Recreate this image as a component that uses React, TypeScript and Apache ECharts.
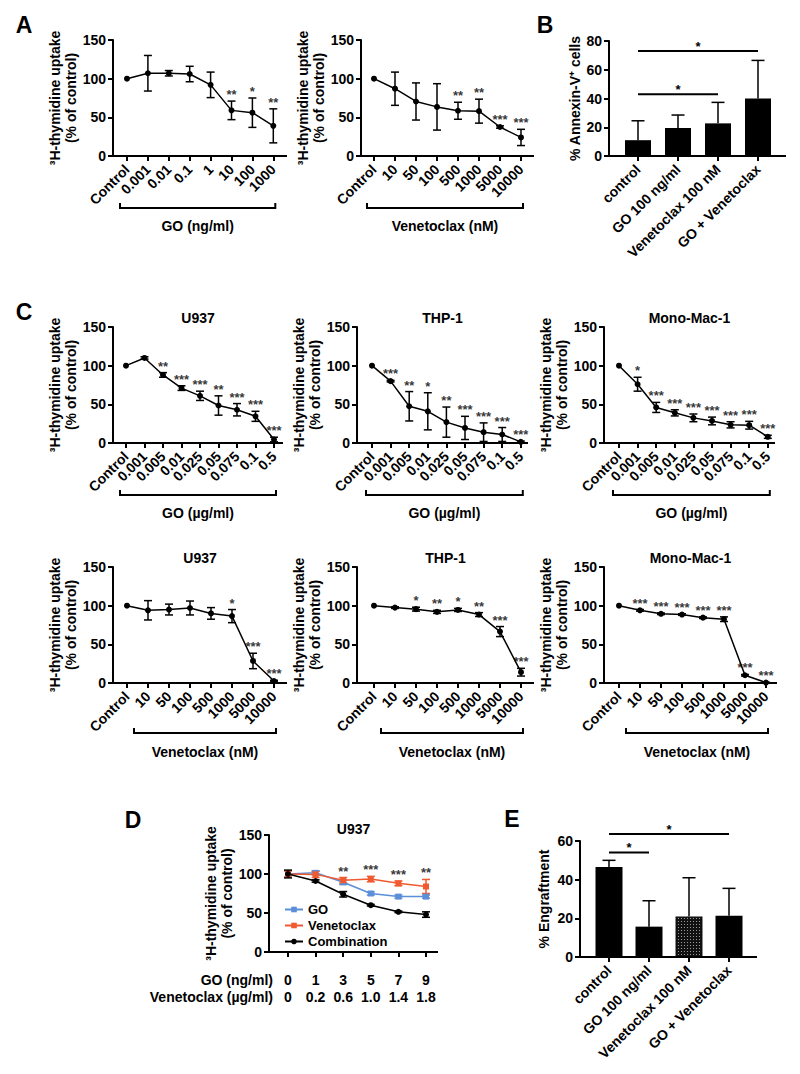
import React, { useEffect, useRef } from "react";
import * as echarts from "echarts";

const FONT = "'Liberation Sans', Arial, Helvetica, sans-serif";

// ---------------- data ----------------
const goNgDoses = ["Control", "0.001", "0.01", "0.1", "1", "10", "100", "1000"];
const venNmDoses = ["Control", "10", "50", "100", "500", "1000", "5000", "10000"];
const goUgDoses = ["Control", "0.001", "0.005", "0.01", "0.025", "0.05", "0.075", "0.1", "0.5"];

// A
const aGoMean = [100, 107, 107, 106, 92, 59, 56, 39];
const aGoSd = [0, 23, 3.5, 10, 16.5, 12, 19, 22];
const aGoSig = ["", "", "", "", "", "**", "*", "**"];
const aVenMean = [100, 87, 70.5, 63.5, 58.5, 58, 37.5, 24];
const aVenSd = [0, 21.5, 24, 30, 11, 15.5, 1.5, 10.5];
const aVenSig = ["", "", "", "", "**", "**", "***", "***"];

// B
const bGroups = ["control", "GO 100 ng/ml", "Venetoclax 100 nM", "GO + Venetoclax"];
const bMean = [11, 19.5, 22.7, 40];
const bSd = [13.5, 9, 14.6, 26.5];
const bSigFrom = [0, 0];
const bSigTo = [3, 2];
const bSigLevel = [73, 43];
const bSigText = ["*", "*"];

// C, GO dose-response
const cU937GoMean = [100, 110, 88, 71, 61, 48.5, 43, 34.5, 4.5];
const cU937GoSd = [0, 1.5, 3, 3, 6, 12.5, 8, 6.5, 3];
const cU937GoSig = ["", "", "**", "***", "***", "**", "***", "***", "***"];
const cThp1GoMean = [100, 80, 47.5, 41, 27, 19.5, 14, 11, 1.5];
const cThp1GoSd = [0, 1, 19, 24, 19.5, 15, 12, 9, 1];
const cThp1GoSig = ["", "***", "**", "*", "**", "***", "***", "***", "***"];
const cMonoGoMean = [100, 76, 46, 39, 32.5, 28.5, 23.5, 23, 8];
const cMonoGoSd = [0, 9, 6.5, 4, 5, 5, 4, 5, 2];
const cMonoGoSig = ["", "*", "***", "***", "***", "***", "***", "***", "***"];

// C, Venetoclax dose-response
const cU937VenMean = [100, 94, 95, 97, 90, 86.5, 28.5, 2.5];
const cU937VenSd = [0, 12.5, 7, 9, 7.5, 8.5, 10, 1];
const cU937VenSig = ["", "", "", "", "", "*", "***", "***"];
const cThp1VenMean = [100, 97.5, 95.5, 92, 94.5, 88.5, 66.5, 14];
const cThp1VenSd = [0, 1, 2.5, 2, 2, 2.5, 6.5, 5];
const cThp1VenSig = ["", "", "*", "**", "*", "**", "***", "***"];
const cMonoVenMean = [100, 94, 89.5, 88.5, 84.5, 82.5, 10, 0.5];
const cMonoVenSd = [0, 1, 1, 1, 1, 3, 1, 0.5];
const cMonoVenSig = ["", "***", "***", "***", "***", "***", "***", "***"];

const cellLines = ["U937", "THP-1", "Mono-Mac-1"];

// D
const dGoDoses = ["0", "1", "3", "5", "7", "9"];
const dVenDoses = ["0", "0.2", "0.6", "1.0", "1.4", "1.8"];
const dGoMean = [100, 101.5, 89.5, 75, 71, 71];
const dGoSd = [4, 2.5, 3, 2, 2, 2];
const dVenMean = [100, 99.5, 92, 93.5, 88, 84];
const dVenSd = [4, 4, 3.5, 3.5, 3, 9];
const dCombMean = [100, 91, 74, 60, 51.5, 48];
const dCombSd = [5, 1.5, 3.5, 1, 1, 3.5];
const dSig = ["", "", "**", "***", "***", "**"];
const dSeriesNames = ["GO", "Venetoclax", "Combination"];

// E
const eGroups = ["control", "GO 100 ng/ml", "Venetoclax 100 nM", "GO + Venetoclax"];
const eMean = [46.5, 15.7, 20.9, 21.4];
const eSd = [3.5, 13.4, 20.1, 14.1];
const eDotted = [false, false, true, false];
const eSigFrom = [0, 0];
const eSigTo = [3, 1];
const eSigLevel = [63.6, 54];
const eSigText = ["*", "*"];

// ---------------- layout (positions only) ----------------
type Lay = { yX: number; top: number; bottom: number; first: number; step: number; n: number; end: number };
const LAYOUT: Lay[] = [
  { yX: 113, top: 40, bottom: 156, first: 127, step: 20.9, n: 8, end: 287 }, // A1
  { yX: 361, top: 40, bottom: 156, first: 374, step: 21, n: 8, end: 534 }, // A2
  { yX: 609, top: 41, bottom: 156, first: 638, step: 40, n: 4, end: 786 }, // B
  { yX: 113, top: 327, bottom: 443, first: 126, step: 18.5, n: 9, end: 283 }, // C1
  { yX: 357, top: 327, bottom: 443, first: 372, step: 18.6, n: 9, end: 528 }, // C2
  { yX: 604, top: 327, bottom: 443, first: 619, step: 18.6, n: 9, end: 775 }, // C3
  { yX: 113, top: 567, bottom: 683, first: 127, step: 21, n: 8, end: 287 }, // C4
  { yX: 357, top: 567, bottom: 683, first: 374, step: 21, n: 8, end: 534 }, // C5
  { yX: 604, top: 567, bottom: 683, first: 619, step: 21, n: 8, end: 777 }, // C6
  { yX: 269, top: 835, bottom: 952, first: 288, step: 27.6, n: 6, end: 438 }, // D
  { yX: 580, top: 841, bottom: 957, first: 609, step: 40, n: 4, end: 757 }, // E
];

const BLACK = "#000";
const GO_BLUE = "#5b8fd8";
const VEN_ORANGE = "#f15a30";
const THY = "\u00b3H-thymidine uptake\n(% of control)";

const labelStyle = { color: BLACK, fontWeight: "bold" as const, fontSize: 14, fontFamily: FONT };
const axisLineStyle = { color: BLACK, width: 2 };

type LinePanel = {
  gi: number; cats: string[]; mean: number[]; sd: number[]; sig: string[];
  bracket: string; bracketY: number; labelY: number; startShift: number; title?: string;
};
const linePanels: LinePanel[] = [
  { gi: 0, cats: goNgDoses, mean: aGoMean, sd: aGoSd, sig: aGoSig, bracket: "GO (ng/ml)", bracketY: 208, labelY: 226, startShift: -7 },
  { gi: 1, cats: venNmDoses, mean: aVenMean, sd: aVenSd, sig: aVenSig, bracket: "Venetoclax (nM)", bracketY: 208, labelY: 226, startShift: -7 },
  { gi: 3, cats: goUgDoses, mean: cU937GoMean, sd: cU937GoSd, sig: cU937GoSig, bracket: "GO (\u00b5g/ml)", bracketY: 495, labelY: 513, startShift: -6, title: cellLines[0] },
  { gi: 4, cats: goUgDoses, mean: cThp1GoMean, sd: cThp1GoSd, sig: cThp1GoSig, bracket: "GO (\u00b5g/ml)", bracketY: 495, labelY: 513, startShift: -6, title: cellLines[1] },
  { gi: 5, cats: goUgDoses, mean: cMonoGoMean, sd: cMonoGoSd, sig: cMonoGoSig, bracket: "GO (\u00b5g/ml)", bracketY: 495, labelY: 513, startShift: -6, title: cellLines[2] },
  { gi: 6, cats: venNmDoses, mean: cU937VenMean, sd: cU937VenSd, sig: cU937VenSig, bracket: "Venetoclax (nM)", bracketY: 733, labelY: 752, startShift: 7, title: cellLines[0] },
  { gi: 7, cats: venNmDoses, mean: cThp1VenMean, sd: cThp1VenSd, sig: cThp1VenSig, bracket: "Venetoclax (nM)", bracketY: 733, labelY: 752, startShift: 7, title: cellLines[1] },
  { gi: 8, cats: venNmDoses, mean: cMonoVenMean, sd: cMonoVenSd, sig: cMonoVenSig, bracket: "Venetoclax (nM)", bracketY: 733, labelY: 752, startShift: 7, title: cellLines[2] },
];

function errSeries(gi: number, mean: number[], sd: number[], color: string, cap: number, upOnly: boolean, z = 2) {
  const data = mean
    .map((m, k) => [k, upOnly ? m : m - sd[k], m + sd[k]])
    .filter((_, k) => sd[k] > 0);
  return {
    type: "custom",
    xAxisIndex: gi,
    yAxisIndex: gi,
    data,
    z,
    silent: true,
    encode: { x: 0, y: [1, 2] },
    renderItem: (_p: any, api: any) => {
      const x = api.value(0);
      const a = api.coord([x, api.value(1)]);
      const b = api.coord([x, api.value(2)]);
      const h = cap / 2;
      const st = { stroke: color, lineWidth: 1.5 };
      const ch: any[] = [
        { type: "line", shape: { x1: a[0], y1: a[1], x2: b[0], y2: b[1] }, style: st },
        { type: "line", shape: { x1: b[0] - h, y1: b[1], x2: b[0] + h, y2: b[1] }, style: st },
      ];
      if (!upOnly) ch.push({ type: "line", shape: { x1: a[0] - h, y1: a[1], x2: a[0] + h, y2: a[1] }, style: st });
      return { type: "group", children: ch };
    },
  };
}

function starSeries(gi: number, tops: number[], sig: string[]) {
  const data = tops.map((t, k) => ({ value: [k, t], name: sig[k] })).filter((_, k) => sig[k]);
  return {
    type: "scatter",
    xAxisIndex: gi,
    yAxisIndex: gi,
    data,
    symbolSize: 0,
    silent: true,
    z: 6,
    label: { show: true, position: "top", distance: 0, formatter: "{b}", ...labelStyle, fontSize: 13 },
  };
}

function lineSeries(gi: number, mean: number[], color = BLACK, symbol = "circle", name?: string) {
  return {
    type: "line",
    name,
    xAxisIndex: gi,
    yAxisIndex: gi,
    data: mean,
    symbol,
    symbolSize: 6,
    lineStyle: { color, width: 1.5 },
    itemStyle: { color },
    z: 4,
  };
}

function buildOption() {
  const grid = LAYOUT.map((L) => ({
    left: L.first - L.step / 2,
    top: L.top,
    width: L.n * L.step,
    height: L.bottom - L.top,
  }));

  const catsFor = (gi: number): string[] => {
    if (gi === 2) return bGroups;
    if (gi === 10) return eGroups;
    if (gi === 9) return dGoDoses;
    return linePanels.find((p) => p.gi === gi)!.cats;
  };

  const xAxis = LAYOUT.map((_, gi) => ({
    type: "category",
    gridIndex: gi,
    data: catsFor(gi),
    boundaryGap: true,
    axisLine: { show: false },
    axisTick: { show: true, alignWithLabel: true, length: 5, lineStyle: axisLineStyle },
    splitLine: { show: false },
    axisLabel:
      gi === 9
        ? {
            ...labelStyle,
            interval: 0,
            margin: 19,
            lineHeight: 17,
            formatter: (v: string, idx: number) => `${v}\n${dVenDoses[idx]}`,
          }
        : { ...labelStyle, interval: 0, rotate: 45, margin: 11 },
  }));

  const yAxis = LAYOUT.map((L, gi) => {
    const isB = gi === 2;
    const isE = gi === 10;
    const grLeft = L.first - L.step / 2;
    return {
      type: "value",
      gridIndex: gi,
      min: 0,
      max: isB ? 80 : isE ? 60 : 150,
      interval: isB || isE ? 20 : 50,
      offset: grLeft - L.yX,
      axisLine: { show: true, onZero: false, lineStyle: axisLineStyle },
      axisTick: { show: true, length: 5, lineStyle: axisLineStyle },
      splitLine: { show: false },
      axisLabel: { ...labelStyle, margin: 7 },
      name: isB ? "% Annexin-V\u207a cells" : isE ? "% Engraftment" : THY,
      nameLocation: "middle",
      nameGap: isB ? 26 : isE ? 28 : 34,
      nameTextStyle: { ...labelStyle, lineHeight: 16 },
    };
  });

  const series: any[] = [];
  linePanels.forEach((p) => {
    series.push(errSeries(p.gi, p.mean, p.sd, BLACK, 8, false));
    series.push(lineSeries(p.gi, p.mean));
    series.push(starSeries(p.gi, p.mean.map((m, k) => m + p.sd[k]), p.sig));
  });

  // B bars
  series.push({
    type: "bar",
    xAxisIndex: 2,
    yAxisIndex: 2,
    data: bMean,
    barWidth: 26,
    itemStyle: { color: BLACK },
    silent: true,
    z: 2,
  });
  series.push(errSeries(2, bMean, bSd, BLACK, 13, true, 3));

  // E bars
  series.push({
    type: "bar",
    xAxisIndex: 10,
    yAxisIndex: 10,
    data: eMean.map((v, k) =>
      eDotted[k]
        ? {
            value: v,
            itemStyle: {
              color: "#111",
              decal: {
                symbol: "rect",
                symbolSize: 1,
                color: "#9a9a9a",
                backgroundColor: "#111",
                dashArrayX: [1, 2],
                dashArrayY: [1, 2],
                rotation: 0,
              },
            },
          }
        : v
    ),
    barWidth: 27,
    itemStyle: { color: BLACK },
    silent: true,
    z: 2,
  });
  series.push(errSeries(10, eMean, eSd, BLACK, 13, true, 3));

  // D
  const dMeans = [dGoMean, dVenMean, dCombMean];
  const dSds = [dGoSd, dVenSd, dCombSd];
  const dColors = [GO_BLUE, VEN_ORANGE, BLACK];
  const dSymbols = ["rect", "rect", "circle"];
  dMeans.forEach((m, s) => {
    series.push(errSeries(9, m, dSds[s], dColors[s], 8, false, 2 + s));
    series.push(lineSeries(9, m, dColors[s], dSymbols[s], dSeriesNames[s]));
  });
  const dTops = dGoDoses.map((_, k) => Math.max(...dMeans.map((m, s) => m[k] + dSds[s][k])));
  series.push(starSeries(9, dTops, dSig));

  return {
    animation: false,
    backgroundColor: "#fff",
    textStyle: { fontFamily: FONT },
    grid,
    xAxis,
    yAxis,
    legend: {
      show: true,
      data: dSeriesNames,
      orient: "vertical",
      left: 279,
      top: 898,
      itemWidth: 18,
      itemHeight: 7,
      itemGap: 3,
      textStyle: { ...labelStyle, fontSize: 13 },
      selectedMode: false,
    },
    series,
  };
}

function txt(text: string, x: number, y: number, size: number, align = "center") {
  return {
    type: "text",
    z: 20,
    silent: true,
    style: {
      text,
      x,
      y,
      font: `bold ${size}px ${FONT}`,
      fill: BLACK,
      align,
      verticalAlign: "middle",
      textAlign: align,
      textVerticalAlign: "middle",
    },
  };
}

function buildGraphic(chart: any) {
  const els: any[] = [];
  const px = (gi: number, k: number, v: number) => chart.convertToPixel({ gridIndex: gi }, [k, v]) as number[];

  // x axis base lines from the y axis to the axis end
  LAYOUT.forEach((L) =>
    els.push({
      type: "line",
      z: 10,
      silent: true,
      shape: { x1: L.yX - 1, y1: L.bottom, x2: L.end, y2: L.bottom },
      style: { stroke: BLACK, lineWidth: 2 },
    })
  );

  // brackets under dose axes
  linePanels.forEach((p) => {
    const x0 = px(p.gi, 0, 0)[0] + p.startShift;
    const x1 = px(p.gi, p.cats.length - 1, 0)[0] + 2;
    const y = p.bracketY;
    els.push({
      type: "polyline",
      z: 10,
      silent: true,
      shape: { points: [[x0, y - 5], [x0, y], [x1, y], [x1, y - 5]] },
      style: { stroke: BLACK, lineWidth: 2, fill: "none" },
    });
    els.push(txt(p.bracket, (x0 + x1) / 2, p.labelY, 14));
    if (p.title) {
      const L = LAYOUT[p.gi];
      els.push(txt(p.title, (L.yX + L.end) / 2, L.top - 9, 14));
    }
  });

  // D title and dose table row headers
  const LD = LAYOUT[9];
  els.push(txt(cellLines[0], (LD.yX + LD.end) / 2, LD.top - 6, 14));
  els.push(txt("GO (ng/ml)", 273, 980, 14, "right"));
  els.push(txt("Venetoclax (\u00b5g/ml)", 273, 997, 14, "right"));

  // significance lines for bar panels
  const sig = (gi: number, from: number[], to: number[], level: number[], text: string[]) => {
    from.forEach((f, i) => {
      const a = px(gi, f, level[i]);
      const b = px(gi, to[i], level[i]);
      els.push({
        type: "line",
        z: 10,
        silent: true,
        shape: { x1: a[0], y1: a[1], x2: b[0], y2: b[1] },
        style: { stroke: BLACK, lineWidth: 2 },
      });
      els.push(txt(text[i], (a[0] + b[0]) / 2, a[1] - 5, 13));
    });
  };
  sig(2, bSigFrom, bSigTo, bSigLevel, bSigText);
  sig(10, eSigFrom, eSigTo, eSigLevel, eSigText);

  // panel letters
  els.push(txt("A", 24, 25, 23));
  els.push(txt("B", 545, 25, 23));
  els.push(txt("C", 24, 312, 23));
  els.push(txt("D", 133, 820, 23));
  els.push(txt("E", 512, 819, 23));

  return els;
}

export default function App() {
  const ref = useRef<HTMLDivElement>(null);
  useEffect(() => {
    const chart = echarts.init(ref.current!, undefined, { renderer: "svg" });
    chart.setOption(buildOption() as any);
    chart.setOption({ graphic: buildGraphic(chart) } as any);
    return () => chart.dispose();
  }, []);
  return (
    <div
      ref={ref}
      style={{ position: "fixed", left: 0, top: 0, width: 800, height: 1074, background: "#fff" }}
    />
  );
}
